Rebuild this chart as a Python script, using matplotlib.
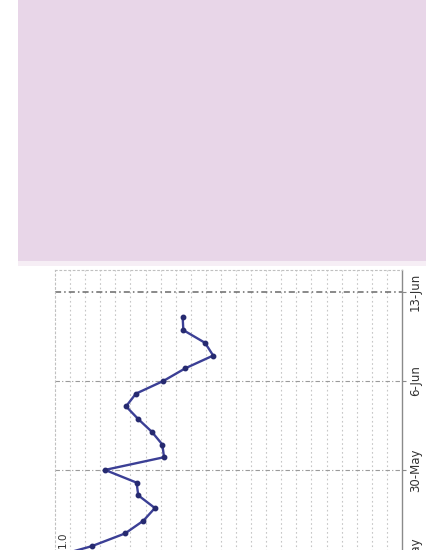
import matplotlib
matplotlib.use("Agg")
import matplotlib.pyplot as plt
import matplotlib.dates as mdates
from matplotlib.patches import Rectangle
import numpy as np
import datetime as dt

# ---- data ----
dates = [dt.date(2011, 5, 23) + dt.timedelta(days=i) for i in range(20)]
values = [1.05, 0.915, 0.817, 0.763, 0.729, 0.778, 0.783, 0.876,
          0.702, 0.707, 0.738, 0.778, 0.814, 0.785, 0.704, 0.639,
          0.557, 0.581, 0.645, 0.647]
tick_dates = [dt.date(2011, 5, 23), dt.date(2011, 5, 30),
              dt.date(2011, 6, 6), dt.date(2011, 6, 13)]
tick_labels = ["23-May", "30-May", "6-Jun", "13-Jun"]
value_label = "1.0"

W, H = 427, 550
fig = plt.figure(figsize=(W / 100, H / 100), dpi=100)
fig.patch.set_facecolor("white")

# pink paper area at the top
fig.patches.append(Rectangle((18 / W, 1 - 261 / H), 1 - 18 / W, 261 / H,
                             transform=fig.transFigure, facecolor="#e8d6e8",
                             edgecolor="none", zorder=0))
fig.patches.append(Rectangle((18 / W, 1 - 266 / H), 1 - 18 / W, 5 / H,
                             transform=fig.transFigure, facecolor="#f6eef5",
                             edgecolor="none", zorder=0))

ax_left, ax_right = 55, 402
ax_top, ax_bottom = 270, 600
ax = fig.add_axes([ax_left / W, 1 - ax_bottom / H,
                   (ax_right - ax_left) / W, (ax_bottom - ax_top) / H])
ax.set_facecolor("white")

px_per_day = 12.7
d30 = mdates.date2num(dt.date(2011, 5, 30))
d13 = mdates.date2num(dt.date(2011, 6, 13))
ax.set_ylim(d30 - (ax_bottom - 470) / px_per_day, d13 + (292 - ax_top) / px_per_day)

px_per_unit = 339.0
ax.set_xlim((ax_right - ax_left) / px_per_unit, 0.0)

# grid
vgrid = np.linspace(0, (ax_right - ax_left) / px_per_unit, 24)
for v in vgrid[1:-1]:
    ax.axvline(v, color="#c6c6c6", lw=0.8, ls=(0, (1.5, 2.5)), zorder=1)
for i, d in enumerate(tick_dates):
    dark = d == tick_dates[-1]
    ax.axhline(mdates.date2num(d), color="#6a6a6a" if dark else "#9a9a9a",
               lw=1.1 if dark else 0.8, ls=(0, (4, 2, 1, 2)), zorder=1)

ax.plot(values, mdates.date2num(dates), color="#3b3f95", lw=1.7,
        marker="o", ms=3.2, mfc="#262a70", mec="#262a70", zorder=3,
        clip_on=False)

ax.set_yticks(mdates.date2num(tick_dates))
ax.set_yticklabels(tick_labels)
ax.yaxis.tick_right()
ax.tick_params(axis="y", which="major", length=3, pad=2, labelsize=8.5,
               labelcolor="#333333", color="#888888", labelrotation=90)
for lab in ax.get_yticklabels():
    lab.set_va("center")
ax.set_xticks([])

for s in ["top", "left", "bottom"]:
    ax.spines[s].set_color("#c0c0c0")
    ax.spines[s].set_linestyle((0, (1.5, 2.5)))
    ax.spines[s].set_linewidth(0.8)
ax.spines["right"].set_color("#8a8a8a")
ax.spines["right"].set_linewidth(1.0)

ax.text(1.0, mdates.date2num(dt.date(2011, 5, 24)) + 0.5, value_label,
        rotation=90, ha="center", va="center", fontsize=7.5,
        color="#333333", clip_on=False)

fig.savefig("out.png", dpi=100, facecolor="white")
